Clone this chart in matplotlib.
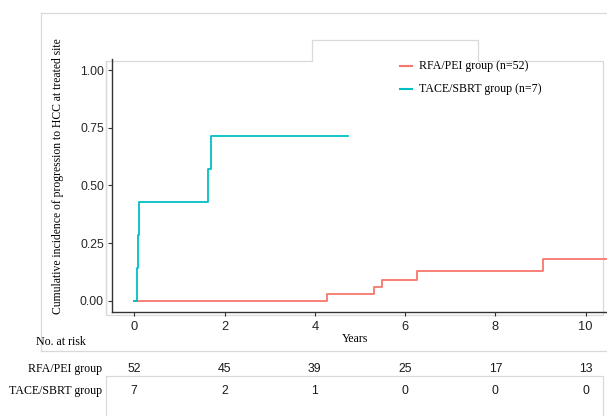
import matplotlib
matplotlib.use("Agg")
import matplotlib.pyplot as plt
from matplotlib.lines import Line2D

# Cumulative incidence step data (years, proportion)
rfa_times = [0, 4.26, 5.30, 5.48, 6.27, 9.06, 10.6]
rfa_values = [0, 0.029, 0.061, 0.090, 0.127, 0.182, 0.182]
tace_times = [0, 0.053, 0.082, 0.097, 1.63, 1.70, 4.73]
tace_values = [0, 0.143, 0.286, 0.429, 0.571, 0.714, 0.714]

group_labels = ["RFA/PEI group (n=52)", "TACE/SBRT group (n=7)"]
risk_groups = ["RFA/PEI group", "TACE/SBRT group"]
risk_times = [0, 2, 4, 6, 8, 10]
risk_rfa = [52, 45, 39, 25, 17, 13]
risk_tace = [7, 2, 1, 0, 0, 0]

y_ticks = [0.00, 0.25, 0.50, 0.75, 1.00]
x_ticks = [0, 2, 4, 6, 8, 10]

RED = "#F8766D"
CYAN = "#00BFC4"
W, H = 607, 416
SERIF = ["Liberation Serif", "DejaVu Serif"]
SANS = ["Liberation Sans", "DejaVu Sans"]

fig = plt.figure(figsize=(W / 100, H / 100), dpi=100)


def fx(x):
    return x / W


def fy(y):
    return 1 - y / H


# light frame lines around the pasted panels
def frame(xs, ys):
    fig.add_artist(Line2D([fx(v) for v in xs], [fy(v) for v in ys],
                          transform=fig.transFigure, color="#d9d9d9",
                          lw=0.9, zorder=0))


frame([40.7, 607], [13.3, 13.3])
frame([40.7, 40.7], [13.3, 351])
frame([40.7, 607], [351, 351])
frame([105.5, 105.5, 312.3, 312.3, 478.3, 478.3, 602.5, 602.5, 105.5, 105.5],
      [315, 61.2, 61.2, 40.3, 40.3, 61.2, 61.2, 315, 315, 61.2])
frame([105.5, 105.5, 603, 603], [416, 376, 376, 416])

ax = fig.add_axes([fx(111.7), fy(312.3), fx(607 - 111.7), (312.3 - 58.6) / H])
ax.set_facecolor("none")
ax.step(rfa_times, rfa_values, where="post", color=RED, lw=1.3)
ax.step(tace_times, tace_values, where="post", color=CYAN, lw=1.3)

ax.set_xlim(-0.5, 10.472)
ax.set_ylim(-0.05, 1.05)
ax.set_xticks(x_ticks)
ax.set_yticks(y_ticks)
ax.set_yticklabels([f"{v:.2f}" for v in y_ticks])
for side in ("top", "right"):
    ax.spines[side].set_visible(False)
for side in ("left", "bottom"):
    ax.spines[side].set_color("#333333")
    ax.spines[side].set_linewidth(1.0)
ax.tick_params(axis="both", colors="#333333", length=2.6, width=0.8)
ax.tick_params(axis="y", pad=3.0, labelsize=8.7)
ax.tick_params(axis="x", pad=3.5, labelsize=9.3)
for lab in ax.get_xticklabels() + ax.get_yticklabels():
    lab.set_fontfamily(SANS)
    lab.set_color("#262626")

# axis titles
fig.text(fx(57.7), fy(176), "Cumulative incidence of progression to HCC at treated site",
         rotation=90, ha="center", va="center", family=SERIF, fontsize=8.4)
fig.text(fx(355), fy(339.5), "Years", ha="center", va="center",
         family=SERIF, fontsize=8.6)

# legend
for label, color, yk in zip(group_labels, [RED, CYAN], [66, 88.7]):
    fig.add_artist(Line2D([fx(400), fx(411.7)], [fy(yk), fy(yk)],
                          transform=fig.transFigure, color=color, lw=1.5))
    fig.text(fx(419.3), fy(yk), label, ha="left", va="center",
             family=SERIF, fontsize=8.6)

# number at risk table
fig.text(fx(36), fy(342.3), "No. at risk", ha="left", va="center",
         family=SERIF, fontsize=8.6)
to_px = ax.transData
for name, counts, yr in zip(risk_groups, [risk_rfa, risk_tace], [369.3, 390.7]):
    fig.text(fx(101.7), fy(yr), name, ha="right", va="center",
             family=SERIF, fontsize=8.6)
    for t, n in zip(risk_times, counts):
        xp = to_px.transform((t, 0))[0]
        fig.text(xp / W, fy(yr), str(n), ha="center", va="center",
                 family=SANS, fontsize=8.8, color="#1a1a1a")

fig.savefig("out.png", dpi=100)
